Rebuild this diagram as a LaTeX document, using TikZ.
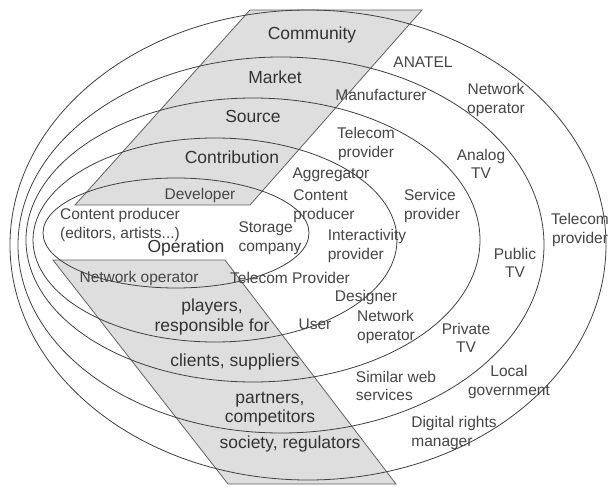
\documentclass[tikz,border=0pt]{standalone}
\usepackage{fontspec}
\setmainfont{Liberation Sans}
\usepackage{tikz}
\usetikzlibrary{positioning}
\definecolor{light-gray}{gray}{0.87}
\definecolor{ring-gray}{gray}{0.25}
\definecolor{edge-gray}{gray}{0.38}
\definecolor{label-gray}{gray}{0.2}
\definecolor{role-gray}{gray}{0.27}
\newcommand{\eclevelfont}{\fontsize{17.5}{19.5}\selectfont}
\newcommand{\ecrolefont}{\fontsize{15.5}{18.5}\selectfont}
\tikzstyle{ringstyle}=[draw=ring-gray,line width=0.8pt]
\tikzstyle{layerstyle}=[draw=edge-gray,fill=light-gray,line width=0.8pt]
\tikzstyle{levelstyle}=[text=label-gray,inner sep=0pt,align=center,font=\eclevelfont]
\tikzstyle{rolestyle}=[text=role-gray,inner sep=0pt,align=center,font=\ecrolefont]
\tikzstyle{roleleftstyle}=[style=rolestyle,align=left]
\newcommand{\ecring}[5]{ \coordinate (#1) at (#2,#3); \draw [style=ringstyle] (#1) ellipse [x radius=#4pt,y radius=#5pt]; }
\newcommand{\eclayer}[9]{ \draw [style=layerstyle] (#2,#3) -- (#4,#5) -- (#6,#7) -- (#8,#9) -- cycle; }
\newcommand{\eclevel}[4]{ \draw (#2,#3) node [style=levelstyle] (#1) {#4}; }
\newcommand{\ecrole}[4]{ \draw (#2,#3) node [style=rolestyle] (#1) {#4}; }
\newcommand{\ecroleleft}[4]{ \draw (#2,#3) node [style=roleleftstyle] (#1) {#4}; }

\begin{document}
\begin{tikzpicture}[x=1pt,y=-1pt]
\path [fill=white] (0,0) rectangle (608,487); %
\useasboundingbox (0,0) rectangle (608,487); %
% grey bands
\eclayer{upper}{75}{205}{250}{205}{422}{10}{250}{10} %
\eclayer{lower}{53}{260}{225}{260}{396}{484}{228}{484} %
% rings, outside in
\ecring{ringfive}{308}{245}{298}{235} %
\ecring{ringfour}{281}{245}{263}{188} %
\ecring{ringthree}{253}{240}{227}{142} %
\ecring{ringtwo}{215}{240}{182}{102} %
\ecring{ringone}{176}{233}{133}{55} %
% levels
\eclevel{community}{312}{35}{Community} %
\eclevel{market}{275}{77}{Market} %
\eclevel{source}{253}{116}{Source} %
\eclevel{contribution}{232}{157}{Contribution} %
\eclevel{operation}{186}{248}{Operation} %
\eclevel{players}{212}{317}{players,\\responsible for} %
\eclevel{clients}{235}{362}{clients, suppliers} %
\eclevel{partners}{270}{409}{partners,\\competitors} %
\eclevel{society}{290}{444}{society, regulators} %
% stakeholders
\ecrole{developer}{200}{195}{Developer} %
\ecroleleft{contentproducer}{120}{225}{Content producer\\(editors, artists...)} %
\ecrole{netopinner}{139}{278}{Network operator} %
\ecroleleft{storage}{270}{238}{Storage\\company} %
\ecrole{telecomprov}{290}{278}{Telecom Provider} %
\ecrole{aggregator}{331}{175}{Aggregator} %
\ecroleleft{contprod}{324}{206}{Content\\producer} %
\ecroleleft{interactivity}{367}{246}{Interactivity\\provider} %
\ecrole{designer}{366}{297}{Designer} %
\ecrole{user}{315}{324}{User} %
\ecrole{telecomone}{366}{144}{Telecom\\provider} %
\ecroleleft{service}{432}{206}{Service\\provider} %
\ecroleleft{netopmiddle}{386}{327}{Network\\operator} %
\ecroleleft{similar}{396}{386}{Similar web\\services} %
\ecrole{manufacturer}{381}{95}{Manufacturer} %
\ecrole{analog}{481}{164}{Analog\\TV} %
\ecrole{publictv}{515}{263}{Public\\TV} %
\ecrole{privatetv}{466}{338}{Private\\TV} %
\ecrole{localgov}{509}{382}{Local\\government} %
\ecrole{anatel}{423}{62}{ANATEL} %
\ecrole{netopouter}{496}{100}{Network\\operator} %
\ecrole{telecomtwo}{580}{230}{Telecom\\provider} %
\ecroleleft{digital}{454}{433}{Digital rights\\manager} %
\end{tikzpicture}
\end{document}
